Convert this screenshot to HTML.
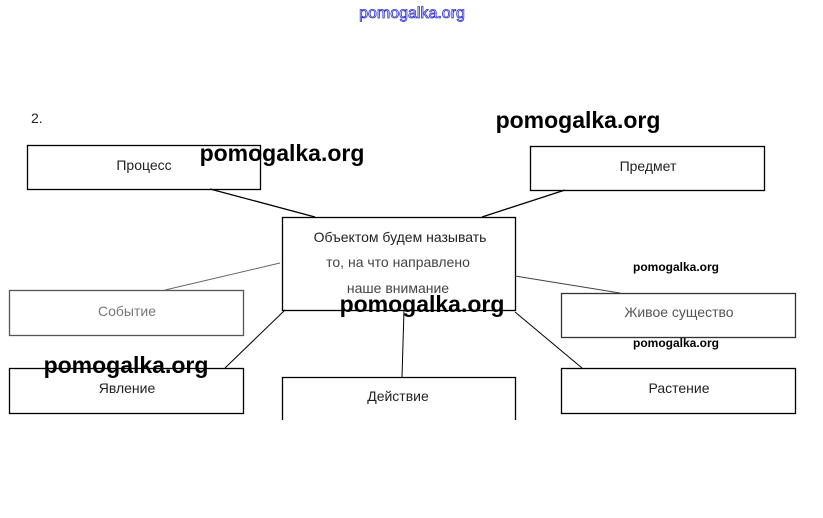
<!DOCTYPE html>
<html><head><meta charset="utf-8"><style>
body{margin:0;background:#fff;width:823px;height:518px;overflow:hidden}
svg{display:block}
text{font-family:"Liberation Sans","DejaVu Sans",sans-serif}
</style></head><body>
<svg width="823" height="518" xmlns="http://www.w3.org/2000/svg">
<g fill="none" stroke="#000" stroke-width="1.3">
<rect x="27.5" y="145.5" width="233" height="44"/>
<rect x="530.5" y="146.5" width="234" height="44"/>
<rect x="282.5" y="217.5" width="233" height="93"/>
<rect x="9.5" y="290.5" width="234" height="45" stroke="#555"/>
<rect x="561.5" y="293.5" width="234" height="44" stroke="#333"/>
<rect x="9.5" y="368.5" width="234" height="45"/>
<path d="M282.5 420V377.5H515.5V420"/>
<rect x="561.5" y="368.5" width="234" height="45"/>
<line x1="210" y1="189" x2="315" y2="217"/>
<line x1="565" y1="190" x2="482" y2="217"/>
<line x1="280" y1="263" x2="165" y2="290" stroke="#666" stroke-width="1"/>
<line x1="515" y1="276" x2="620" y2="293" stroke="#444" stroke-width="1"/>
<line x1="285" y1="310" x2="225" y2="368" stroke-width="1"/>
<line x1="404" y1="310" x2="402" y2="377" stroke-width="1"/>
<line x1="515" y1="312" x2="582" y2="368" stroke-width="1"/>
</g>
<g font-size="14" fill="#222" text-anchor="middle">
<text x="144" y="170">Процесс</text>
<text x="648" y="171">Предмет</text>
<text x="400" y="242">Объектом будем называть</text>
<text x="398" y="267" fill="#444">то, на что направлено</text>
<text x="398" y="293" fill="#444">наше внимание</text>
<text x="127" y="316" fill="#777">Событие</text>
<text x="679" y="317" fill="#555">Живое существо</text>
<text x="127" y="393">Явление</text>
<text x="398" y="401">Действие</text>
<text x="679" y="393">Растение</text>
<text x="31" y="123" font-size="14" text-anchor="start">2.</text>
</g>
<g font-weight="bold" fill="#000" text-anchor="middle">
<text x="578" y="128" font-size="23">pomogalka.org</text>
<text x="282" y="161" font-size="23">pomogalka.org</text>
<text x="422" y="312" font-size="23">pomogalka.org</text>
<text x="126" y="373" font-size="23">pomogalka.org</text>
<text x="676" y="271" font-size="12">pomogalka.org</text>
<text x="676" y="347" font-size="12">pomogalka.org</text>
</g>
<text x="412" y="18" font-size="16" text-anchor="middle" fill="#fff" stroke="#2a2acc" stroke-width="0.8">pomogalka.org</text>
</svg>
</body></html>
